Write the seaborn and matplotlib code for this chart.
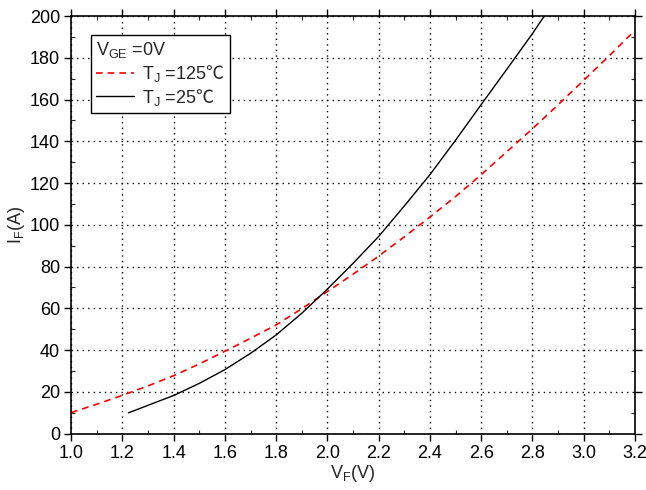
import pandas as pd
import matplotlib
matplotlib.use("Agg")
import matplotlib.pyplot as plt
import seaborn as sns
from matplotlib.ticker import MultipleLocator
from matplotlib.lines import Line2D

# Forward characteristic
vf_125 = [1.0, 1.1, 1.2, 1.3, 1.4, 1.5, 1.6, 1.7, 1.8, 1.9, 2.0, 2.1,
          2.2, 2.3, 2.4, 2.5, 2.6, 2.7, 2.8, 2.9, 3.0, 3.1, 3.2]
if_125 = [10, 14, 18.3, 22.8, 27.7, 33.3, 39.4, 45.6, 52, 59.8, 68, 76.3,
          85, 94.2, 103.7, 113.5, 124, 135, 146, 157.5, 169.2, 181, 193.2]

vf_25 = [1.224, 1.3, 1.4, 1.5, 1.6, 1.7, 1.8, 1.9, 2.0, 2.1, 2.2, 2.3,
         2.4, 2.5, 2.6, 2.7, 2.8, 2.846]
if_25 = [9.9, 13.5, 18.2, 24, 30.6, 38.4, 47.2, 57.6, 69.2, 81.5, 94.4, 109,
         124, 140.5, 157.6, 174.5, 191.6, 200]

x_ticks = [1.0, 1.2, 1.4, 1.6, 1.8, 2.0, 2.2, 2.4, 2.6, 2.8, 3.0, 3.2]
y_ticks = [0, 20, 40, 60, 80, 100, 120, 140, 160, 180, 200]

df125 = pd.DataFrame({"VF": vf_125, "IF": if_125})
df25 = pd.DataFrame({"VF": vf_25, "IF": if_25})

sns.set_style("ticks")
plt.rcParams["font.family"] = ["Liberation Sans", "Noto Sans CJK SC", "DejaVu Sans"]
plt.rcParams["mathtext.fontset"] = "custom"
plt.rcParams["mathtext.rm"] = "Liberation Sans"
plt.rcParams["mathtext.sf"] = "Noto Sans CJK SC"
plt.rcParams["mathtext.default"] = "regular"

fig = plt.figure(figsize=(6.46, 4.9), dpi=100)
ax = fig.add_axes([0.110, 0.1153, 0.873, 0.8520])

sns.lineplot(data=df125, x="VF", y="IF", ax=ax, color="red", lw=1.2,
             linestyle=(0, (4, 3)), sort=False)
sns.lineplot(data=df25, x="VF", y="IF", ax=ax, color="black", lw=1.0, sort=False)

ax.set_xlim(1.0, 3.2)
ax.set_ylim(0, 200)
ax.set_xticks(x_ticks)
ax.set_xticklabels([f"{t:.1f}" for t in x_ticks])
ax.set_yticks(y_ticks)
ax.xaxis.set_minor_locator(MultipleLocator(0.1))
ax.yaxis.set_minor_locator(MultipleLocator(10))
ax.tick_params(which="major", direction="out", length=5, width=1,
               labelsize=13, colors="black", pad=3)
ax.tick_params(which="minor", direction="in", length=3, width=0.8,
               top=True, right=True)
ax.tick_params(which="major", top=True, right=True)
ax.grid(True, which="major", color="black", linestyle=(0, (1, 3)), lw=1.0)
for s in ax.spines.values():
    s.set_color("black")
    s.set_linewidth(1.2)

ax.set_xlabel("V$_{F}$(V)", fontsize=13, labelpad=1)
ax.set_ylabel("I$_{F}$(A)", fontsize=13, labelpad=2)

handles = [Line2D([], [], color="red", lw=1.2, linestyle=(0, (4, 3))),
           Line2D([], [], color="black", lw=1.0)]
labels = [r"T$_{J}$ =125$\mathsf{℃}$", r"T$_{J}$ =25$\mathsf{℃}$"]
leg = ax.legend(handles, labels, title="V$_{GE}$ =0V", loc="upper left",
                bbox_to_anchor=(0.035, 0.955), fontsize=13, title_fontsize=13,
                alignment="left", fancybox=False, frameon=True,
                framealpha=1, edgecolor="black", borderpad=0.3,
                labelspacing=0.15, handlelength=2.1, handletextpad=0.45,
                borderaxespad=0)
leg.get_frame().set_linewidth(1.0)

fig.savefig("out.png", dpi=100)
